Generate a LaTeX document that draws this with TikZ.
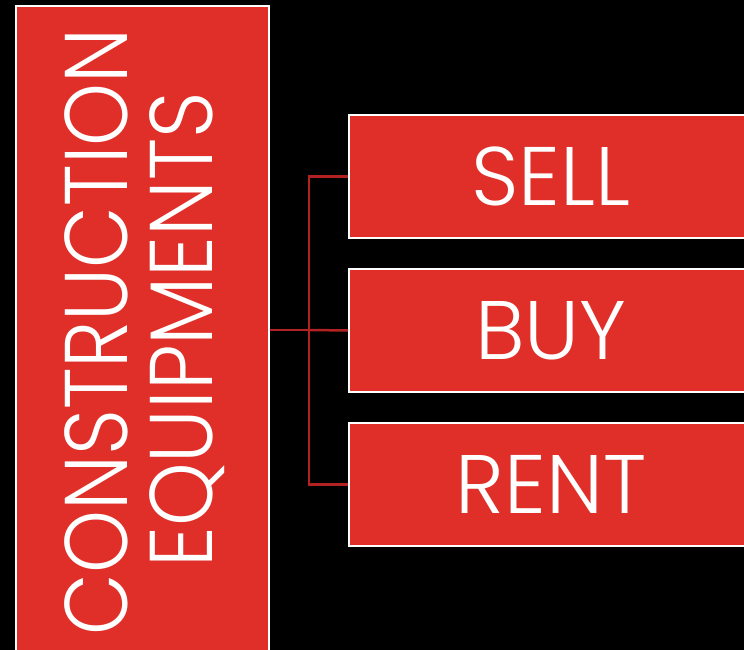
\documentclass[tikz,border=0pt]{standalone}
\usepackage{fontspec}
\setmainfont{Poppins}[UprightFont={* Light}]
\definecolor{boxred}{RGB}{224,46,40}
\definecolor{linered}{RGB}{178,34,34}
\begin{document}
\begin{tikzpicture}[x=1pt,y=1pt,
  redbox/.style={draw=white, line width=2pt, fill=boxred, inner sep=0pt},
  conn/.style={draw=linered, line width=2.5pt},
  bigtext/.style={text=white, font=\fontsize{89}{89}\selectfont, inner sep=0pt, rotate=90},
  itemtext/.style={text=white, font=\fontsize{83}{83}\selectfont}]
\useasboundingbox (0,0) rectangle (744,650);
\fill[black] (0,0) rectangle (744,650);
\clip (0,0) rectangle (744,650);
\node[redbox, minimum width=253pt, minimum height=654pt] (main) at (142.5,317) {};
\node[bigtext] (l1) at (96,318) {\scalebox{0.9}[1]{CONSTRUCTION}};
\node[bigtext] (l2) at (187,320) {\scalebox{0.91}[1]{EQUIPMENTS}};
\node[redbox, minimum width=404pt, minimum height=123pt] (sell) at (551,473.5) {};
\node[redbox, minimum width=404pt, minimum height=123pt] (buy) at (551,319.5) {};
\node[redbox, minimum width=404pt, minimum height=123pt] (rent) at (551,165.5) {};
\node[itemtext] at (551,473.5) {SELL};
\node[itemtext] at (551,319.5) {BUY};
\node[itemtext] at (551,165.5) {RENT};
\coordinate (j) at (309,320);
\draw[conn] (main.east |- j) -- (j);
\draw[conn] (sell.west) -| (j);
\draw[conn] (rent.west) -| (j);
\draw[conn] (j) -- (buy.west);
\end{tikzpicture}
\end{document}
